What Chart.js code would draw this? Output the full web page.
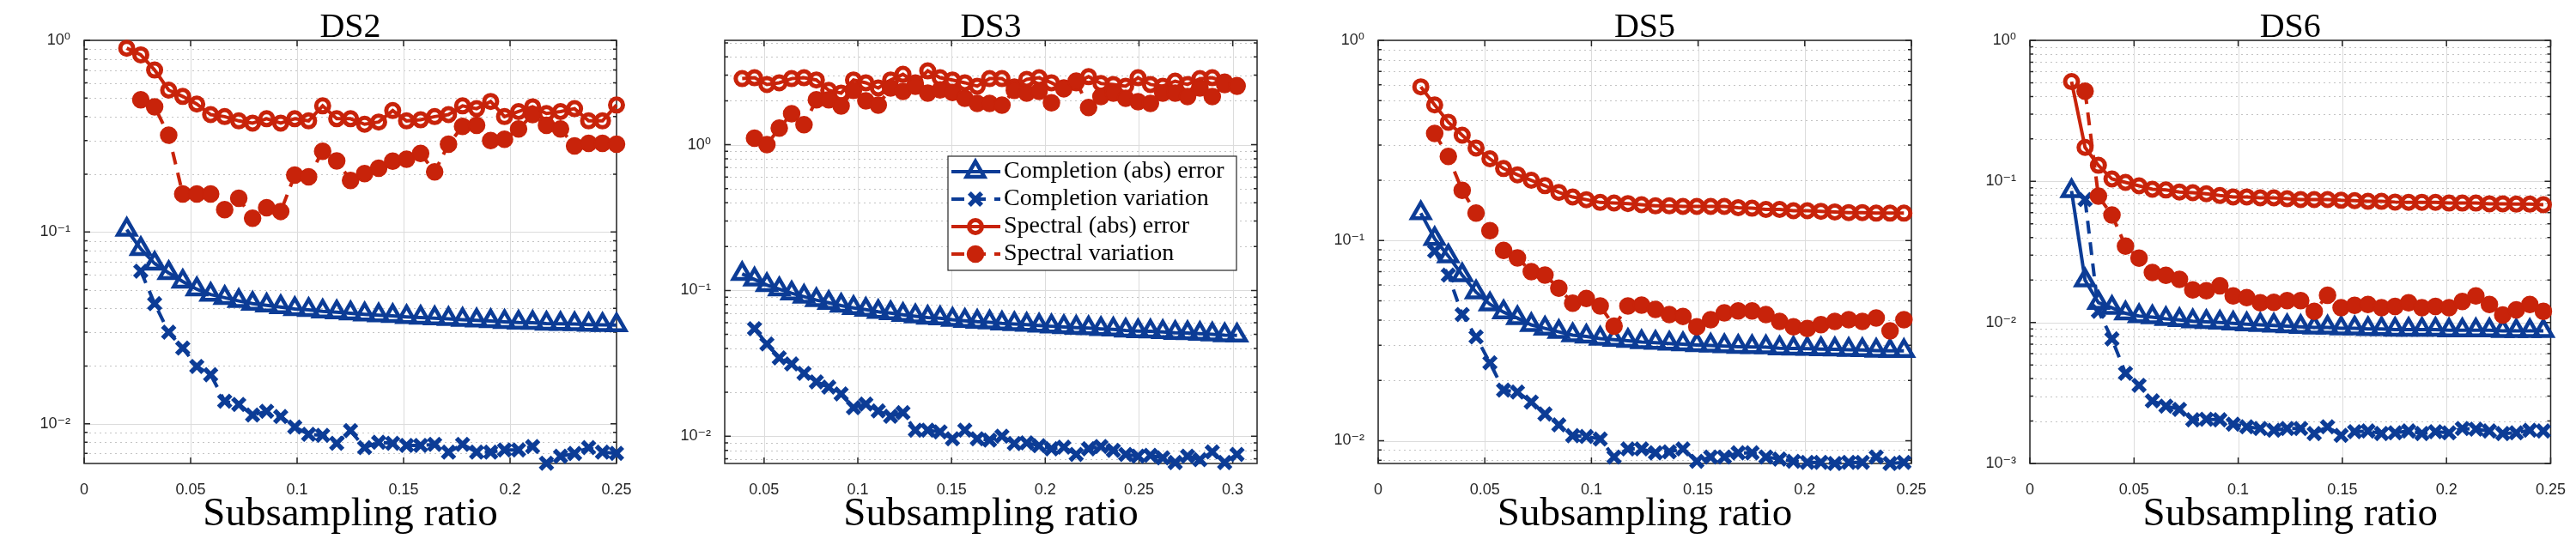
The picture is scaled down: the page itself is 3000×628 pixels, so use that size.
<!DOCTYPE html>
<html>
<head>
<meta charset="utf-8">
<script src="https://cdn.jsdelivr.net/npm/chart.js@4.4.0/dist/chart.umd.min.js"></script>
<style>
  html, body { margin: 0; padding: 0; background: #fff; }
  #wrap { position: relative; width: 3000px; height: 628px; overflow: hidden; background: #fff; }
  #wrap canvas { position: absolute; top: 0; }
</style>
</head>
<body>
<div id="wrap">
  <canvas id="ds2" width="760" height="628" style="left:0px"></canvas>
  <canvas id="ds3" width="760" height="628" style="left:760px"></canvas>
  <canvas id="ds5" width="770" height="628" style="left:1520px"></canvas>
  <canvas id="ds6" width="710" height="628" style="left:2290px"></canvas>
</div>
<script>
// subsampling ratios (x)
const xDS2 = [0.0200, 0.0266, 0.0331, 0.0397, 0.0463, 0.0529, 0.0594, 0.0660, 0.0726, 0.0791,
  0.0857, 0.0923, 0.0989, 0.1054, 0.1120, 0.1186, 0.1251, 0.1317, 0.1383, 0.1449,
  0.1514, 0.1580, 0.1646, 0.1711, 0.1777, 0.1843, 0.1909, 0.1974, 0.2040, 0.2106,
  0.2171, 0.2237, 0.2303, 0.2369, 0.2434, 0.2500];
const xDS3 = [0.0383, 0.0449, 0.0515, 0.0581, 0.0647, 0.0713, 0.0779, 0.0845, 0.0911, 0.0977,
  0.1043, 0.1109, 0.1175, 0.1241, 0.1307, 0.1373, 0.1439, 0.1505, 0.1571, 0.1637,
  0.1703, 0.1769, 0.1835, 0.1901, 0.1967, 0.2033, 0.2099, 0.2165, 0.2231, 0.2297,
  0.2363, 0.2429, 0.2495, 0.2561, 0.2627, 0.2693, 0.2759, 0.2825, 0.2891, 0.2957, 0.3023];
const xDS56 = [0.0200, 0.0265, 0.0329, 0.0394, 0.0459, 0.0524, 0.0588, 0.0653, 0.0718, 0.0782,
  0.0847, 0.0912, 0.0976, 0.1041, 0.1106, 0.1171, 0.1235, 0.1300, 0.1365, 0.1429,
  0.1494, 0.1559, 0.1623, 0.1688, 0.1753, 0.1818, 0.1882, 0.1947, 0.2012, 0.2076,
  0.2141, 0.2206, 0.2270, 0.2335, 0.2400, 0.2465];

// DS2
const ds2CompErr = [0.103, 0.0817, 0.0685, 0.0612, 0.0552, 0.0503, 0.0472, 0.0454, 0.0437, 0.0423,
  0.0414, 0.0406, 0.0397, 0.0393, 0.0386, 0.0382, 0.0377, 0.0372, 0.0368, 0.0365,
  0.0361, 0.0358, 0.0355, 0.0352, 0.0349, 0.0346, 0.0343, 0.0340, 0.0337, 0.0336,
  0.0333, 0.0332, 0.0331, 0.0329, 0.0328, 0.0327];
const ds2CompVar = [0.0625, 0.0423, 0.0300, 0.0248, 0.0199, 0.0180, 0.0131, 0.0126, 0.0111, 0.0116,
  0.0109, 0.0096, 0.0088, 0.0087, 0.0079, 0.0092, 0.0075, 0.0080, 0.0079, 0.0077,
  0.0077, 0.0078, 0.0071, 0.0078, 0.0071, 0.0071, 0.0073, 0.0073, 0.0076, 0.00622,
  0.00676, 0.00699, 0.0075, 0.0071, 0.0070];
const ds2SpecErr = [0.91, 0.84, 0.70, 0.55, 0.51, 0.465, 0.41, 0.40, 0.38, 0.37,
  0.39, 0.37, 0.39, 0.38, 0.455, 0.39, 0.39, 0.365, 0.375, 0.43,
  0.38, 0.385, 0.40, 0.41, 0.455, 0.44, 0.48, 0.40, 0.425, 0.45,
  0.415, 0.425, 0.44, 0.38, 0.38, 0.46];
const ds2SpecVar = [0.49, 0.45, 0.32, 0.158, 0.158, 0.158, 0.131, 0.150, 0.118, 0.134,
  0.128, 0.198, 0.194, 0.264, 0.235, 0.186, 0.202, 0.215, 0.234, 0.240,
  0.257, 0.206, 0.287, 0.356, 0.360, 0.300, 0.305, 0.345, 0.41, 0.36,
  0.345, 0.281, 0.29, 0.29, 0.287];

// DS3
const ds3CompErr = [0.130, 0.119, 0.109, 0.102, 0.0957, 0.0907, 0.0859, 0.0823, 0.0788, 0.0759,
  0.0738, 0.0714, 0.0700, 0.0680, 0.0666, 0.0651, 0.0645, 0.0630, 0.0620, 0.0610,
  0.0605, 0.0594, 0.0589, 0.0582, 0.0574, 0.0568, 0.0562, 0.0556, 0.0551, 0.0545,
  0.0540, 0.0532, 0.0527, 0.0524, 0.0519, 0.0513, 0.0510, 0.0505, 0.0500, 0.0494, 0.0491];
const ds3CompVar = [0.0547, 0.0429, 0.0345, 0.0313, 0.0270, 0.0236, 0.0217, 0.0195, 0.0157, 0.0166,
  0.0149, 0.0137, 0.0145, 0.0110, 0.0110, 0.0107, 0.0096, 0.0110, 0.0096, 0.0094,
  0.0100, 0.0089, 0.0090, 0.0086, 0.0082, 0.0084, 0.0075, 0.0082, 0.0085, 0.0080,
  0.0075, 0.0073, 0.0074, 0.0071, 0.0066, 0.0073, 0.0069, 0.0078, 0.0066, 0.0075];
const ds3SpecErr = [2.84, 2.88, 2.59, 2.66, 2.84, 2.88, 2.78, 2.36, 2.26, 2.78,
  2.66, 2.45, 2.78, 3.04, 2.66, 3.21, 2.88, 2.78, 2.66, 2.52,
  2.84, 2.84, 2.49, 2.81, 2.88, 2.66, 2.41, 2.66, 2.93, 2.63,
  2.59, 2.52, 2.88, 2.59, 2.52, 2.73, 2.59, 2.84, 2.88, 2.69, 2.55];
const ds3SpecVar = [1.11, 1.00, 1.30, 1.63, 1.37, 2.03, 2.03, 1.84, 2.36, 2.00,
  1.87, 2.45, 2.32, 2.52, 2.26, 2.38, 2.28, 2.08, 1.92, 1.92,
  1.87, 2.36, 2.26, 2.32, 1.94, 2.45, 2.73, 1.80, 2.14, 2.26,
  2.08, 1.97, 1.92, 2.26, 2.26, 2.14, 2.45, 2.14, 2.59, 2.52];

// DS5
const ds5CompErr = [0.137, 0.102, 0.0836, 0.0672, 0.0552, 0.0481, 0.0439, 0.0410, 0.0379, 0.0364,
  0.0350, 0.0337, 0.0332, 0.0324, 0.0320, 0.0316, 0.0311, 0.0309, 0.0306, 0.0304,
  0.0301, 0.0299, 0.0297, 0.0295, 0.0294, 0.0293, 0.0290, 0.0289, 0.0288, 0.0287,
  0.0286, 0.0285, 0.0284, 0.0282, 0.0281, 0.0281];
const ds5CompVar = [0.0886, 0.0672, 0.0427, 0.0330, 0.0245, 0.0179, 0.0175, 0.0156, 0.0136, 0.0120,
  0.0106, 0.0105, 0.0102, 0.0083, 0.0091, 0.0091, 0.0087, 0.0088, 0.0091, 0.0079,
  0.0083, 0.0083, 0.0087, 0.0087, 0.0083, 0.0081, 0.0079, 0.0078, 0.0078, 0.0077,
  0.0078, 0.0078, 0.0083, 0.0077, 0.0078];
const ds5SpecErr = [0.586, 0.476, 0.39, 0.336, 0.29, 0.256, 0.229, 0.213, 0.20, 0.188,
  0.174, 0.165, 0.16, 0.155, 0.154, 0.153, 0.151, 0.149, 0.149, 0.148,
  0.148, 0.148, 0.148, 0.146, 0.145, 0.143, 0.143, 0.141, 0.141, 0.140,
  0.139, 0.138, 0.138, 0.137, 0.137, 0.137];
const ds5SpecVar = [0.343, 0.263, 0.178, 0.137, 0.112, 0.0893, 0.0819, 0.070, 0.0672, 0.0578,
  0.0486, 0.0514, 0.0471, 0.0374, 0.0471, 0.0476, 0.0453, 0.0427, 0.0418, 0.0371,
  0.0402, 0.0435, 0.0445, 0.0445, 0.0427, 0.0394, 0.0371, 0.0364, 0.038, 0.0394,
  0.0402, 0.0394, 0.041, 0.0354, 0.0402];

// DS6
const ds6CompErr = [0.0855, 0.0199, 0.0138, 0.0127, 0.0116, 0.0111, 0.0109, 0.0106, 0.0104, 0.0102,
  0.0101, 0.0100, 0.00984, 0.0097, 0.0096, 0.0095, 0.0094, 0.0093, 0.0092, 0.0092,
  0.0091, 0.0091, 0.0090, 0.0090, 0.0089, 0.0089, 0.0089, 0.0089, 0.0088, 0.0088,
  0.0088, 0.0088, 0.0087, 0.0087, 0.0087, 0.0087];
const ds6CompVar = [0.0743, 0.0120, 0.00764, 0.00436, 0.00358, 0.00278, 0.00255, 0.00242, 0.00204, 0.00206,
  0.00204, 0.0019, 0.00182, 0.00177, 0.00172, 0.00177, 0.00177, 0.00163, 0.00182, 0.00158,
  0.00168, 0.0017, 0.00163, 0.00165, 0.0017, 0.00163, 0.00168, 0.00165, 0.00177, 0.00175,
  0.0017, 0.00163, 0.00165, 0.00172, 0.0017];
const ds6SpecErr = [0.51, 0.174, 0.130, 0.104, 0.0984, 0.093, 0.0879, 0.0869, 0.084, 0.0831,
  0.0817, 0.0794, 0.0776, 0.0776, 0.0764, 0.0764, 0.0753, 0.0743, 0.0743, 0.0743,
  0.0735, 0.0731, 0.0722, 0.0722, 0.0714, 0.071, 0.071, 0.071, 0.0702, 0.0702,
  0.0702, 0.0694, 0.0694, 0.069, 0.069, 0.0683];
const ds6SpecVar = [0.436, 0.0785, 0.0577, 0.0348, 0.0286, 0.0226, 0.0216, 0.0202, 0.017, 0.0168,
  0.0182, 0.0154, 0.015, 0.0138, 0.0139, 0.0143, 0.0143, 0.012, 0.0156, 0.0127,
  0.0132, 0.0134, 0.0127, 0.013, 0.0138, 0.0127, 0.013, 0.0127, 0.0141, 0.0154,
  0.0134, 0.0113, 0.0123, 0.0134, 0.012];

const seriesNames = ["Completion (abs) error", "Completion variation", "Spectral (abs) error", "Spectral variation"];

const BLUE = "#0c3c96";
const RED = "#c8230a";
const INK = "#262626";
const SUP = { "0": "\u2070", "1": "\u00b9", "2": "\u00b2", "3": "\u00b3", "4": "\u2074",
  "5": "\u2075", "6": "\u2076", "7": "\u2077", "8": "\u2078", "9": "\u2079", "-": "\u207b" };

function decadeLabel(v) {
  const e = Math.round(Math.log10(v));
  return "10" + String(e).split("").map((c) => SUP[c]).join("");
}

// variation series start at the second ratio
function pairs(xs, ys) {
  const off = xs.length - ys.length;
  return ys.map((v, i) => ({ x: xs[i + off], y: v }));
}

function makeDatasets(xs, compErr, compVar, specErr, specVar) {
  return [
    {
      label: seriesNames[0], data: pairs(xs, compErr), order: 3,
      borderColor: BLUE, borderWidth: 4,
      pointStyle: "triangle", pointRadius: 12, pointBorderWidth: 4.5,
      pointBorderColor: BLUE, pointBackgroundColor: "rgba(0,0,0,0)",
    },
    {
      label: seriesNames[1], data: pairs(xs, compVar), order: 2,
      borderColor: BLUE, borderWidth: 4, borderDash: [15, 10],
      pointStyle: "crossRot", pointRadius: 10, pointBorderWidth: 5.5,
      pointBorderColor: BLUE, pointBackgroundColor: BLUE,
    },
    {
      label: seriesNames[2], data: pairs(xs, specErr), order: 1,
      borderColor: RED, borderWidth: 4,
      pointStyle: "circle", pointRadius: 7.5, pointBorderWidth: 5,
      pointBorderColor: RED, pointBackgroundColor: "rgba(0,0,0,0)",
    },
    {
      label: seriesNames[3], data: pairs(xs, specVar), order: 0,
      borderColor: RED, borderWidth: 4, borderDash: [15, 10],
      pointStyle: "circle", pointRadius: 9.5, pointBorderWidth: 1.5,
      pointBorderColor: RED, pointBackgroundColor: RED,
    },
  ];
}

function gridXs(s) {
  const out = [];
  for (let k = Math.ceil(s.min / 0.05 - 1e-6); k * 0.05 <= s.max + 1e-9; k++) out.push(+(k * 0.05).toFixed(2));
  return out;
}

// grid, box, inner ticks, title and x label in the MATLAB look
const panelFrame = {
  id: "panelFrame",
  beforeDatasetsDraw(chart) {
    const { ctx, chartArea: a, scales: { x, y } } = chart;
    ctx.save();
    const xs = gridXs(x);
    const lo = Math.floor(Math.log10(y.min)), hi = Math.ceil(Math.log10(y.max));
    const minors = [], majors = [];
    for (let d = lo; d <= hi; d++) {
      for (let m = 1; m <= 9; m++) {
        const v = m * Math.pow(10, d);
        if (v < y.min * 0.9999 || v > y.max * 1.0001) continue;
        (m === 1 ? majors : minors).push(v);
      }
    }
    // minor dotted grid
    ctx.lineWidth = 1;
    ctx.strokeStyle = "#c4c4c4";
    ctx.setLineDash([2, 4]);
    minors.forEach((v) => {
      const p = Math.round(y.getPixelForValue(v)) + 0.5;
      ctx.beginPath(); ctx.moveTo(a.left, p); ctx.lineTo(a.right, p); ctx.stroke();
    });
    // major solid grid
    ctx.setLineDash([]);
    ctx.strokeStyle = "#dcdcdc";
    majors.forEach((v) => {
      const p = Math.round(y.getPixelForValue(v)) + 0.5;
      ctx.beginPath(); ctx.moveTo(a.left, p); ctx.lineTo(a.right, p); ctx.stroke();
    });
    xs.forEach((v) => {
      const p = Math.round(x.getPixelForValue(v)) + 0.5;
      ctx.beginPath(); ctx.moveTo(p, a.top); ctx.lineTo(p, a.bottom); ctx.stroke();
    });
    // box and inward ticks
    ctx.strokeStyle = INK;
    ctx.lineWidth = 1.5;
    ctx.strokeRect(a.left, a.top, a.width, a.height);
    ctx.beginPath();
    xs.forEach((v) => {
      const p = x.getPixelForValue(v);
      ctx.moveTo(p, a.bottom); ctx.lineTo(p, a.bottom - 7);
      ctx.moveTo(p, a.top); ctx.lineTo(p, a.top + 7);
    });
    majors.forEach((v) => {
      const p = y.getPixelForValue(v);
      ctx.moveTo(a.left, p); ctx.lineTo(a.left + 7, p);
      ctx.moveTo(a.right, p); ctx.lineTo(a.right - 7, p);
    });
    minors.forEach((v) => {
      const p = y.getPixelForValue(v);
      ctx.moveTo(a.left, p); ctx.lineTo(a.left + 4, p);
      ctx.moveTo(a.right, p); ctx.lineTo(a.right - 4, p);
    });
    ctx.stroke();
    ctx.restore();
  },
  afterDraw(chart, args, opts) {
    const { ctx, chartArea: a } = chart;
    const cx = (a.left + a.right) / 2;
    ctx.save();
    ctx.fillStyle = "#000";
    ctx.textAlign = "center";
    ctx.textBaseline = "alphabetic";
    ctx.font = "40px 'Liberation Serif'";
    ctx.fillText(opts.title, cx, 43);
    ctx.font = "47px 'Liberation Serif'";
    ctx.fillText(opts.xlabel, cx, 612);
    ctx.restore();
  },
};
Chart.register(panelFrame);

// legend drawn inside DS3 axes
const legendBox = {
  id: "legendBox",
  afterDatasetsDraw(chart) {
    const { ctx } = chart;
    const bx = 344, by = 182, bw = 336, bh = 133;
    const rows = [200, 232, 264, 296];
    ctx.save();
    ctx.fillStyle = "#fff";
    ctx.fillRect(bx, by, bw, bh);
    ctx.strokeStyle = INK;
    ctx.lineWidth = 1.2;
    ctx.strokeRect(bx, by, bw, bh);
    chart.data.datasets.forEach((ds, i) => {
      const yy = rows[i];
      ctx.strokeStyle = ds.borderColor;
      ctx.lineWidth = ds.borderWidth;
      ctx.setLineDash(ds.borderDash || []);
      ctx.beginPath(); ctx.moveTo(348, yy); ctx.lineTo(405, yy); ctx.stroke();
      ctx.setLineDash([]);
      ctx.fillStyle = ds.pointBackgroundColor;
      ctx.strokeStyle = ds.pointBorderColor;
      ctx.lineWidth = ds.pointBorderWidth;
      Chart.helpers.drawPoint(ctx, {
        pointStyle: ds.pointStyle, radius: ds.pointRadius, rotation: 0, borderWidth: ds.pointBorderWidth,
      }, 376, yy);
      ctx.fillStyle = "#000";
      ctx.font = "28px 'Liberation Serif'";
      ctx.textAlign = "left";
      ctx.textBaseline = "middle";
      ctx.fillText(ds.label, 409, yy);
    });
    ctx.restore();
  },
};

function makeChart(id, cfg) {
  const tickFont = { family: "'Liberation Sans', 'DejaVu Sans', sans-serif", size: 18 };
  return new Chart(document.getElementById(id), {
    type: "line",
    data: { datasets: cfg.datasets },
    plugins: cfg.plugins || [],
    options: {
      responsive: false,
      animation: false,
      events: [],
      layout: { padding: { top: 47, left: 0, right: cfg.padRight, bottom: 0 } },
      datasets: { line: { tension: 0, clip: false, fill: false } },
      plugins: {
        legend: { display: false },
        tooltip: { enabled: false },
        panelFrame: { title: cfg.title, xlabel: "Subsampling ratio" },
      },
      scales: {
        x: {
          type: "linear",
          min: cfg.xMin, max: cfg.xMax,
          grid: { display: false },
          border: { display: false },
          ticks: {
            padding: 12, color: INK, font: tickFont, autoSkip: false, maxRotation: 0,
            callback: (v) => String(+v.toFixed(2)),
          },
          afterBuildTicks: (s) => { s.ticks = gridXs(s).map((v) => ({ value: v })); },
          afterFit: (s) => { s.height = 88; },
        },
        y: {
          type: "logarithmic",
          min: cfg.yMin, max: cfg.yMax,
          grid: { display: false },
          border: { display: false },
          ticks: {
            padding: 8, color: INK, font: { ...tickFont, size: 18 }, autoSkip: false,
            callback: (v) => decadeLabel(v),
          },
          afterBuildTicks: (s) => {
            const out = [];
            for (let d = Math.floor(Math.log10(s.min)); d <= Math.ceil(Math.log10(s.max)); d++) {
              const v = Math.pow(10, d);
              if (v >= s.min * 0.9999 && v <= s.max * 1.0001) out.push({ value: v, major: true });
            }
            s.ticks = out;
          },
          afterFit: (s) => { s.width = cfg.yWidth; },
        },
      },
    },
  });
}

makeChart("ds2", {
  title: "DS2", xMin: 0, xMax: 0.25, yMin: 0.0062, yMax: 1, yWidth: 98, padRight: 42,
  datasets: makeDatasets(xDS2, ds2CompErr, ds2CompVar, ds2SpecErr, ds2SpecVar),
});
makeChart("ds3", {
  title: "DS3", xMin: 0.029, xMax: 0.313, yMin: 0.0065, yMax: 5.2, yWidth: 84, padRight: 56,
  datasets: makeDatasets(xDS3, ds3CompErr, ds3CompVar, ds3SpecErr, ds3SpecVar),
  plugins: [legendBox],
});
makeChart("ds5", {
  title: "DS5", xMin: 0, xMax: 0.25, yMin: 0.0077, yMax: 1, yWidth: 85, padRight: 64,
  datasets: makeDatasets(xDS56, ds5CompErr, ds5CompVar, ds5SpecErr, ds5SpecVar),
});
makeChart("ds6", {
  title: "DS6", xMin: 0, xMax: 0.25, yMin: 0.001, yMax: 1, yWidth: 74, padRight: 15,
  datasets: makeDatasets(xDS56, ds6CompErr, ds6CompVar, ds6SpecErr, ds6SpecVar),
});
</script>
</body>
</html>
